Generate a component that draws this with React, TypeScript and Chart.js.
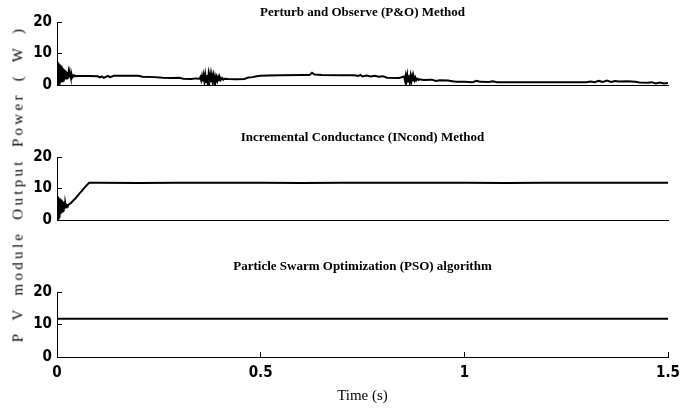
import React, { useEffect, useRef } from "react";
import { Chart, registerables } from "chart.js";
Chart.register(...registerables);

// ---- Data ----
const titles = [
  "Perturb and Observe (P&O) Method",
  "Incremental Conductance (INcond) Method",
  "Particle Swarm Optimization (PSO) algorithm",
];
const xLabel = "Time (s)";
const yLabel = "P V module Output Power ( W )";
const xTicks = [0, 0.5, 1, 1.5];
const yTicks = [0, 10, 20];

// P&O output power (W)
const poTime = [
  0, 0.001, 0.002, 0.003, 0.004, 0.005, 0.006, 0.007, 0.008, 0.009, 0.01, 0.011, 0.012, 0.013, 0.014, 0.015,
  0.016, 0.017, 0.018, 0.019, 0.02, 0.021, 0.022, 0.023, 0.024, 0.025, 0.026, 0.027, 0.028, 0.029, 0.03,
  0.031, 0.032, 0.033, 0.034, 0.035, 0.036, 0.037, 0.038, 0.039, 0.04, 0.042, 0.044, 0.046, 0.05,
  0.08, 0.1, 0.105, 0.11, 0.115, 0.12, 0.125, 0.13, 0.14, 0.17, 0.2, 0.21, 0.24, 0.26, 0.28, 0.3, 0.31,
  0.33, 0.34, 0.35,
  0.352, 0.354, 0.356, 0.358, 0.36, 0.362, 0.364, 0.366, 0.368, 0.37, 0.372, 0.374, 0.376, 0.378, 0.38,
  0.382, 0.384, 0.386, 0.388, 0.39, 0.392, 0.394, 0.396, 0.398, 0.4, 0.402, 0.405, 0.408, 0.41,
  0.42, 0.44, 0.46, 0.47, 0.48, 0.49, 0.5, 0.52, 0.55, 0.6, 0.62, 0.626, 0.632, 0.65, 0.7, 0.73, 0.74,
  0.745, 0.75, 0.76, 0.77, 0.78, 0.79, 0.8, 0.81, 0.84,
  0.852, 0.854, 0.856, 0.858, 0.86, 0.862, 0.864, 0.866, 0.868, 0.87, 0.872, 0.874, 0.876, 0.878, 0.88,
  0.882, 0.885, 0.888, 0.89,
  0.9, 0.92, 0.93, 0.94, 0.96, 0.97, 0.98, 1.0, 1.02, 1.03, 1.04, 1.06, 1.07, 1.08, 1.1, 1.2, 1.3, 1.31,
  1.32, 1.33, 1.34, 1.35, 1.36, 1.37, 1.38, 1.4, 1.42, 1.43, 1.45, 1.46, 1.47, 1.48, 1.49, 1.5,
];
const poPower = [
  7.4, 0.0, 7.2, 0.2, 6.9, 0.4, 6.6, 0.6, 6.3, 0.8, 6.0, 1.0, 5.7, 1.2, 5.4, 1.4,
  5.1, 1.6, 4.8, 1.8, 4.5, 1.95, 4.3, 2.1, 4.1, 2.2, 3.9, 2.3, 3.7, 2.4, 3.55,
  2.5, 3.4, 2.55, 3.3, 2.6, 3.2, 2.65, 3.1, 2.7, 3.05, 2.75, 2.95, 2.8, 2.85,
  2.85, 2.8, 2.4, 2.7, 2.3, 2.6, 2.9, 2.5, 2.9, 2.95, 2.9, 2.6, 2.5, 2.3, 2.2, 2.3, 2.0,
  1.9, 2.1, 2.0,
  2.5, 1.5, 2.8, 1.2, 3.0, 1.0, 3.1, 0.9, 3.2, 0.8, 3.2, 0.8, 3.1, 0.9, 3.0,
  1.0, 2.9, 1.1, 2.7, 1.3, 2.5, 1.4, 2.4, 1.5, 2.3, 1.6, 2.2, 1.7, 2.0,
  1.9, 1.8, 1.9, 2.4, 2.5, 2.8, 2.9, 3.0, 3.1, 3.15, 3.2, 3.9, 3.3, 3.15, 3.1, 3.1, 2.9,
  3.2, 2.7, 3.0, 2.7, 2.9, 2.6, 2.8, 2.3, 2.2,
  2.7, 1.6, 3.0, 1.3, 3.1, 1.1, 3.1, 1.1, 2.9, 1.2, 2.7, 1.4, 2.5, 1.5, 2.3,
  1.5, 2.0, 1.6, 1.8,
  1.6, 1.7, 1.3, 1.5, 1.4, 1.2, 1.0, 1.0, 0.9, 1.3, 1.0, 0.95, 1.2, 0.9, 0.9, 0.85, 0.85, 1.1,
  0.9, 1.3, 1.0, 1.4, 1.0, 1.3, 1.1, 1.2, 1.0, 0.8, 0.7, 0.9, 0.5, 0.8, 0.5, 0.6,
];

// INcond output power (W)
const incTime = [
  0, 0.001, 0.002, 0.003, 0.004, 0.005, 0.006, 0.007, 0.008, 0.009, 0.01, 0.011, 0.012, 0.013, 0.014,
  0.015, 0.016, 0.017, 0.018, 0.019, 0.02, 0.021, 0.022, 0.023, 0.024, 0.025, 0.026, 0.027, 0.028,
  0.03, 0.035, 0.04, 0.045, 0.05, 0.055, 0.06, 0.065, 0.07, 0.075, 0.079,
  0.1, 0.2, 0.3, 0.4, 0.5, 0.6, 0.7, 0.8, 0.9, 1.0, 1.1, 1.2, 1.3, 1.4, 1.5,
];
const incPower = [
  7.6, 0.0, 7.4, 0.5, 7.1, 1.0, 6.9, 1.5, 6.6, 1.9, 6.4, 2.3, 6.1, 2.7, 5.9,
  3.0, 5.7, 3.3, 5.5, 3.6, 5.3, 3.9, 5.1, 4.1, 5.0, 4.3, 4.9, 4.5, 4.8,
  5.0, 5.5, 6.2, 6.8, 7.6, 8.4, 9.1, 9.9, 10.6, 11.3, 11.8,
  11.8, 11.75, 11.8, 11.85, 11.8, 11.75, 11.8, 11.8, 11.85, 11.8, 11.75, 11.8, 11.8, 11.85, 11.8,
];

// PSO output power (W)
const psoTime = [0, 1.5];
const psoPower = [11.8, 11.8];

// ---- Layout ----
const W = 695;
const H = 412;
const PLOT_LEFT = 57;
const PLOT_RIGHT = 668;

const tickFont = {
  family: '"DejaVu Sans Condensed", "Liberation Sans Narrow", "Arial Narrow", sans-serif',
  size: 15,
  weight: "bold" as const,
};
const serif = '"Liberation Serif", "Times New Roman", serif';

type Panel = {
  time: number[];
  power: number[];
  title: string;
  top: number;
  bottom: number;
  titleY: number;
  showX: boolean;
};

const panels: Panel[] = [
  { time: poTime, power: poPower, title: titles[0], top: 22, bottom: 85, titleY: 13, showX: false },
  { time: incTime, power: incPower, title: titles[1], top: 157, bottom: 220, titleY: 138, showX: false },
  { time: psoTime, power: psoPower, title: titles[2], top: 292, bottom: 357, titleY: 267, showX: true },
];

const panelTitle = {
  id: "panelTitle",
  afterDraw(chart: any, _args: any, opts: any) {
    const { ctx, chartArea } = chart;
    ctx.save();
    ctx.font = `bold 13px ${serif}`;
    ctx.fillStyle = "#000";
    ctx.textAlign = "center";
    ctx.textBaseline = "middle";
    ctx.fillText(opts.text, (chartArea.left + chartArea.right) / 2, opts.y);
    ctx.restore();
  },
};

function PanelChart({ p }: { p: Panel }) {
  const ref = useRef<HTMLCanvasElement | null>(null);
  useEffect(() => {
    if (!ref.current) return;
    const xAxisHeight = p.showX ? H - p.bottom : 0;
    const chart = new Chart(ref.current, {
      type: "line",
      data: {
        datasets: [
          {
            data: p.time.map((t, i) => ({ x: t, y: p.power[i] })),
            borderColor: "#000",
            borderWidth: 2,
            pointRadius: 0,
            tension: 0,
            fill: false,
          },
        ],
      },
      options: {
        responsive: false,
        animation: false,
        devicePixelRatio: 1,
        layout: {
          padding: {
            left: 0,
            right: W - PLOT_RIGHT,
            top: p.top,
            bottom: H - p.bottom - xAxisHeight,
          },
        },
        plugins: {
          legend: { display: false },
          tooltip: { enabled: false },
          title: { display: false },
          panelTitle: { text: p.title, y: p.titleY },
        } as any,
        scales: {
          x: {
            type: "linear",
            min: 0,
            max: 1.5,
            afterBuildTicks: (s: any) => {
              s.ticks = xTicks.map((v) => ({ value: v }));
            },
            afterFit: (s: any) => {
              s.height = xAxisHeight;
            },
            border: { display: true, color: "#000", width: 1 },
            grid: {
              display: p.showX,
              drawOnChartArea: false,
              drawTicks: p.showX,
              tickLength: -5,
              color: "#000",
            },
            ticks: {
              display: p.showX,
              color: "#000",
              font: tickFont,
              padding: 12,
              maxRotation: 0,
              callback: (v: any) => String(v),
            },
            title: {
              display: p.showX,
              text: xLabel,
              color: "#000",
              font: { family: serif, size: 15, weight: "normal" },
              padding: { top: 0, bottom: 7 },
            },
          },
          y: {
            type: "linear",
            min: 0,
            max: 20,
            afterBuildTicks: (s: any) => {
              s.ticks = yTicks.map((v) => ({ value: v }));
            },
            afterFit: (s: any) => {
              s.width = PLOT_LEFT;
            },
            border: { display: true, color: "#000", width: 1 },
            grid: {
              display: true,
              drawOnChartArea: false,
              drawTicks: true,
              tickLength: -5,
              color: "#000",
            },
            ticks: {
              color: "#000",
              font: tickFont,
              padding: 10,
              callback: (v: any) => String(v),
            },
          },
        },
      },
      plugins: [panelTitle],
    } as any);
    return () => chart.destroy();
  }, [p]);
  return (
    <canvas
      ref={ref}
      width={W}
      height={H}
      style={{ position: "absolute", left: 0, top: 0, width: W, height: H }}
    />
  );
}

export default function App() {
  return (
    <div
      style={{
        position: "fixed",
        left: 0,
        top: 0,
        width: W,
        height: H,
        background: "#fff",
        overflow: "hidden",
      }}
    >
      {panels.map((p, i) => (
        <PanelChart key={i} p={p} />
      ))}
      <div
        style={{
          position: "absolute",
          left: 18,
          top: 184,
          transform: "translate(-50%, -50%) rotate(-90deg)",
          whiteSpace: "nowrap",
          fontFamily: serif,
          fontSize: 15,
          letterSpacing: "3.3px",
          wordSpacing: "4px",
          color: "#000",
        }}
      >
        {yLabel}
      </div>
    </div>
  );
}
